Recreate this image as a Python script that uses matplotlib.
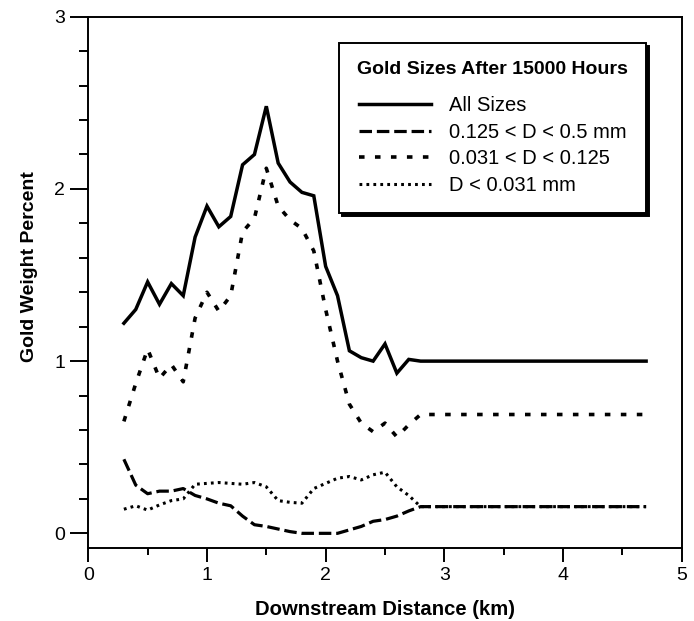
import matplotlib
matplotlib.use('Agg')
import matplotlib.pyplot as plt
from matplotlib.ticker import MultipleLocator

# distances along the channel (km), last point is the end of the flat tail
x_km = [0.3, 0.4, 0.5, 0.6, 0.7, 0.8, 0.9, 1.0, 1.1, 1.2, 1.3, 1.4, 1.5,
        1.6, 1.7, 1.8, 1.9, 2.0, 2.1, 2.2, 2.3, 2.4, 2.5, 2.6, 2.7, 2.8, 4.7]

all_sizes = [1.22, 1.30, 1.46, 1.33, 1.45, 1.38, 1.72, 1.90, 1.78, 1.84, 2.14, 2.20, 2.48,
             2.15, 2.04, 1.98, 1.96, 1.55, 1.38, 1.06, 1.02, 1.00, 1.10, 0.93, 1.01, 1.00, 1.00]
coarse = [0.43, 0.28, 0.23, 0.245, 0.245, 0.26, 0.22, 0.20, 0.175, 0.16, 0.10, 0.05, 0.04,
          0.025, 0.01, 0.0, 0.0, 0.0, 0.0, 0.02, 0.04, 0.07, 0.08, 0.10, 0.13, 0.155, 0.155]
medium = [0.65, 0.87, 1.07, 0.90, 0.98, 0.88, 1.25, 1.40, 1.29, 1.38, 1.75, 1.83, 2.12,
          1.90, 1.82, 1.77, 1.64, 1.30, 1.00, 0.75, 0.64, 0.59, 0.64, 0.56, 0.63, 0.69, 0.69]
fine = [0.14, 0.16, 0.135, 0.165, 0.19, 0.20, 0.285, 0.29, 0.295, 0.29, 0.285, 0.295, 0.27,
        0.19, 0.18, 0.175, 0.26, 0.29, 0.32, 0.33, 0.31, 0.34, 0.355, 0.27, 0.22, 0.155, 0.155]

labels = ['All Sizes', '0.125 < D < 0.5 mm', '0.031 < D < 0.125', 'D < 0.031 mm']

plt.rcParams['font.family'] = ['Liberation Sans', 'DejaVu Sans']
plt.rcParams['lines.scale_dashes'] = False

fig = plt.figure(figsize=(6.94, 6.21), dpi=100)
ax = fig.add_axes([0.1272, 0.1176, 0.8551, 0.8555])

ax.plot(x_km, all_sizes, color='k', lw=2.5, solid_joinstyle='miter', label=labels[0])
ax.plot(x_km, coarse, color='k', lw=2.3, dashes=(9, 3.5), label=labels[1])
ax.plot(x_km, medium, color='k', lw=2.6, dashes=(4, 7.5), label=labels[2])
ax.plot(x_km, fine, color='k', lw=2.2, dashes=(2, 3), label=labels[3])

ax.set_xlim(0, 5)
ax.set_ylim(-0.085, 3)
ax.xaxis.set_major_locator(MultipleLocator(1))
ax.xaxis.set_minor_locator(MultipleLocator(0.5))
ax.yaxis.set_major_locator(MultipleLocator(1))
ax.yaxis.set_minor_locator(MultipleLocator(0.2))
ax.tick_params(which='both', direction='out', width=1.4, labelsize=14, top=False, right=False)
ax.tick_params(axis='y', which='major', length=13)
ax.tick_params(axis='y', which='minor', length=6.5)
ax.tick_params(axis='x', which='major', length=10)
ax.tick_params(axis='x', which='minor', length=5)
for s in ax.spines.values():
    s.set_linewidth(1.4)

ax.set_xlabel('Downstream Distance (km)', fontsize=14.6, fontweight='bold', labelpad=12)
ax.set_ylabel('Gold Weight Percent', fontsize=14, fontweight='bold', labelpad=12)
ax.yaxis.label.set_y(0.53)

leg = ax.legend(loc='upper right', bbox_to_anchor=(0.940, 0.951), borderaxespad=0,
                frameon=True, fancybox=False, shadow={'color': 'k', 'alpha': 1},
                fontsize=14.5, handlelength=3.6, handletextpad=0.85, labelspacing=0.38,
                borderpad=0.9, title='Gold Sizes After 15000 Hours',
                title_fontproperties={'weight': 'bold', 'size': 14})
leg.get_frame().set_edgecolor('k')
leg.get_frame().set_linewidth(1.4)
leg._legend_box.sep = 13

fig.savefig('out.png', dpi=100)
